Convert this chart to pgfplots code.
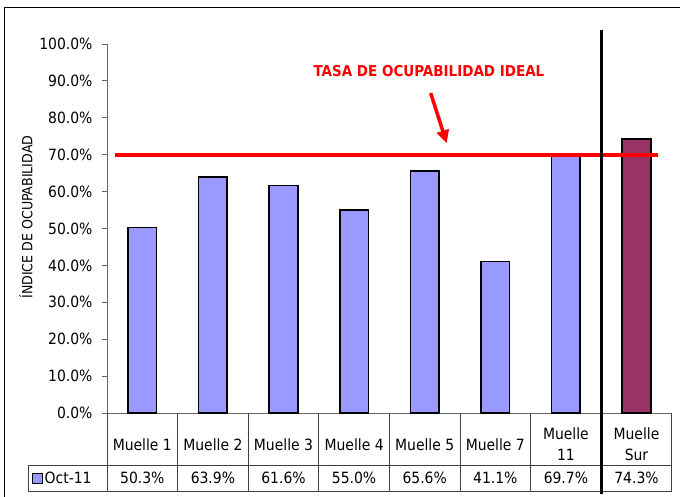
\documentclass[border=0pt]{standalone}
\usepackage{pgfplots}
\pgfplotsset{compat=1.18}
\usepackage{fontspec}
\setmainfont{DejaVu Sans Condensed}
\usetikzlibrary{arrows.meta}

\definecolor{barblue}{HTML}{9999FF}
\definecolor{barsur}{HTML}{993366}
\definecolor{idealred}{HTML}{FF0000}
\newcommand{\tabfont}{\fontsize{15.5}{21}\selectfont}

\begin{document}
\begin{tikzpicture}[x=1pt,y=1pt]
\useasboundingbox (0,0) rectangle (680,497);
\draw[line width=1.5pt] (4.3,-10) rectangle (700,489.7);

\begin{axis}[
    at={(107pt,84pt)}, anchor=south west,
    scale only axis, width=564.8pt, height=369pt,
    xmin=-0.5, xmax=7.5, ymin=0, ymax=100,
    axis lines*=left,
    axis line style={draw=black!60, line width=0.9pt},
    clip=false,
    xtick={0,...,7},
    xtick style={draw=none},
    xticklabels={Muelle 1,Muelle 2,Muelle 3,Muelle 4,Muelle 5,Muelle 7,{Muelle\\11},{Muelle\\Sur}},
    xticklabel style={align=center, anchor=center, yshift=-26.5pt, font=\tabfont},
    ytick={0,10,...,100},
    tick align=outside,
    major tick length=5pt,
    ytick style={draw=black!60, line width=0.9pt},
    yticklabel={\pgfmathprintnumber[fixed,fixed zerofill,precision=1]{\tick}\%},
    yticklabel style={font=\tabfont, xshift=-6pt},
    /pgf/number format/assume math mode=true,
    ylabel={ÍNDICE DE OCUPABILIDAD},
    ylabel style={at={(axis description cs:0,0.531)}, yshift=81pt, anchor=center,
        font=\fontsize{14}{16}\selectfont},
]
% Oct-11 occupancy (%)
\addplot[ybar, bar width=28.6pt, bar shift=0pt, fill=barblue, draw=black, line width=1.5pt]
    coordinates {(0,50.3) (1,63.9) (2,61.6) (3,55.0) (4,65.6) (5,41.1) (6,69.7)};
\addplot[ybar, bar width=28.6pt, bar shift=0pt, fill=barsur, draw=black, line width=1.5pt]
    coordinates {(7,74.3)};
% data table row
\addplot[draw=none, mark=none, point meta=explicit,
    nodes near coords={\pgfmathprintnumber[fixed,fixed zerofill,precision=1]{\pgfplotspointmeta}\%},
    every node near coord/.style={anchor=center, yshift=-65pt, font=\tabfont}]
    coordinates {(0,0)[50.3] (1,0)[63.9] (2,0)[61.6] (3,0)[55.0] (4,0)[65.6] (5,0)[41.1] (6,0)[69.7] (7,0)[74.3]};
% ideal rate
\draw[idealred, line width=4pt] (axis cs:-0.387,70) -- (axis cs:7.305,70);
\node[text=idealred, font=\fontsize{15}{17}\selectfont\bfseries] at (axis cs:4.061,92.7)
    {TASA DE OCUPABILIDAD IDEAL};
\draw[idealred, line width=3.5pt, -{Triangle[length=13pt,width=12pt]}]
    (axis cs:4.085,86.7) -- (axis cs:4.312,73.1);
\end{axis}

% table grid
\begin{scope}[draw=black!75, line width=0.9pt]
\draw (107,84) -- (107,6);
\foreach \k in {1,...,6,8} \draw ({107+70.6*\k},84) -- ({107+70.6*\k},6);
\draw (28.3,32) -- (671.8,32);
\draw (28.3,6) -- (671.8,6);
\draw (28.3,32) -- (28.3,6);
\end{scope}
\draw[line width=2.5pt] (601.7,467) -- (601.7,3);
\draw[fill=barblue, line width=0.9pt] (32.3,14) rectangle (42.3,24);
\node[anchor=west, inner sep=0pt, font=\tabfont] at (44.5,19) {Oct-11};
\end{tikzpicture}
\end{document}
